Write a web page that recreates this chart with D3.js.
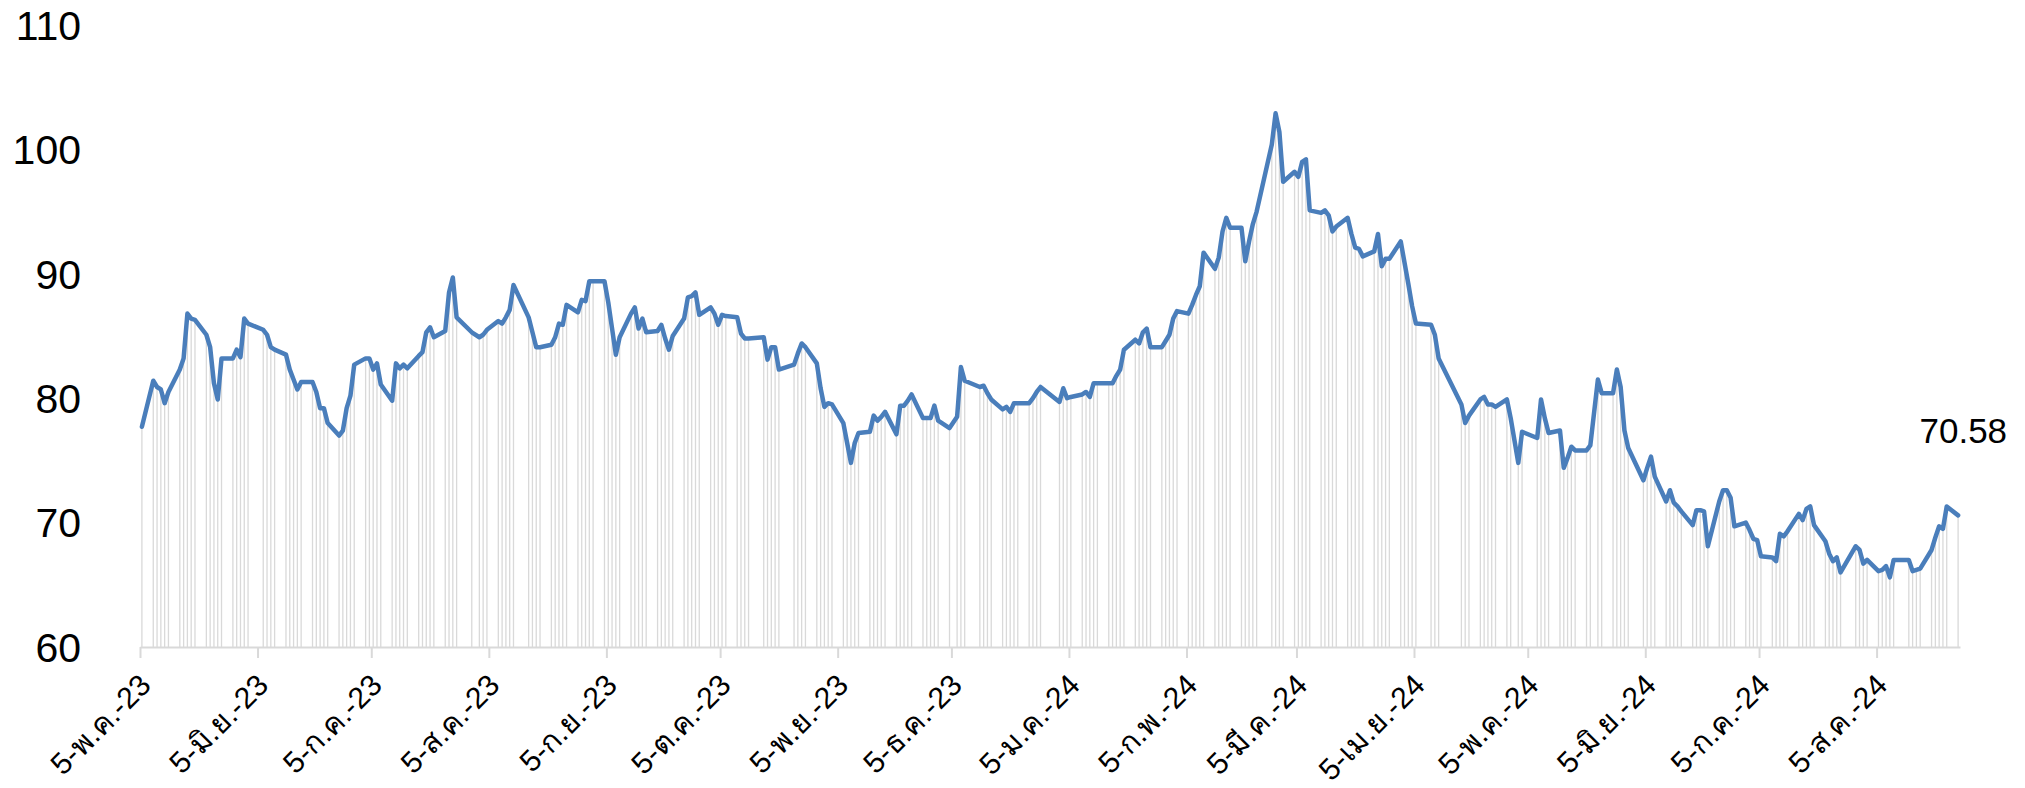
<!DOCTYPE html>
<html>
<head>
<meta charset="utf-8">
<script src="https://cdn.jsdelivr.net/npm/d3@7"></script>
<style>
  html, body { margin: 0; padding: 0; background: #ffffff; }
  svg { display: block; }
  text { font-family: "Liberation Sans", Arial, Helvetica, sans-serif; fill: #000000; }
</style>
</head>
<body>
<svg id="chart" width="2025" height="788"></svg>
<script>
// Trading days, grouped by month
const months = [
  "2023-05", "2023-06", "2023-07", "2023-08", "2023-09", "2023-10", "2023-11", "2023-12",
  "2024-01", "2024-02", "2024-03", "2024-04", "2024-05", "2024-06", "2024-07", "2024-08"
];
const tradingDays = [
  [5, 8, 9, 10, 11, 12, 15, 16, 17, 18, 19, 22, 23, 24, 25, 26, 29, 30, 31],
  [1, 2, 6, 7, 8, 9, 12, 13, 14, 15, 16, 19, 20, 21, 22, 23, 26, 27, 28, 29, 30],
  [3, 4, 5, 6, 7, 10, 11, 12, 13, 14, 17, 18, 19, 20, 21, 24, 25, 26, 27, 31],
  [2, 3, 4, 7, 8, 9, 10, 11, 15, 16, 17, 18, 21, 22, 23, 24, 25, 28, 29, 30, 31],
  [1, 4, 5, 6, 7, 8, 11, 12, 13, 14, 15, 18, 19, 20, 21, 22, 25, 26, 27, 28, 29],
  [2, 3, 4, 5, 6, 9, 10, 11, 12, 16, 17, 18, 19, 20, 24, 25, 26, 27, 30, 31],
  [1, 2, 3, 6, 7, 8, 9, 10, 13, 14, 15, 16, 17, 20, 21, 22, 23, 24, 27, 28, 29, 30],
  [1, 4, 6, 7, 8, 12, 13, 14, 15, 18, 19, 20, 21, 22, 25, 26, 27, 28],
  [2, 3, 4, 5, 8, 9, 10, 11, 12, 15, 16, 17, 18, 19, 22, 23, 24, 25, 26, 29, 30, 31],
  [1, 2, 5, 6, 7, 8, 9, 12, 13, 14, 15, 16, 19, 20, 21, 22, 23, 27, 28, 29],
  [1, 4, 5, 6, 7, 8, 11, 12, 13, 14, 15, 18, 19, 20, 21, 22, 25, 26, 27, 28, 29],
  [1, 2, 3, 4, 5, 9, 10, 11, 17, 18, 19, 22, 23, 24, 25, 26, 29, 30],
  [2, 3, 7, 8, 9, 10, 13, 14, 15, 16, 17, 20, 21, 23, 24, 27, 28, 29, 30, 31],
  [4, 5, 6, 7, 10, 11, 12, 13, 14, 17, 18, 19, 20, 21, 24, 25, 26, 27, 28],
  [1, 2, 3, 4, 5, 8, 9, 10, 11, 12, 15, 16, 17, 18, 19, 22, 23, 24, 25, 26, 30, 31],
  [1, 2, 5, 6, 7, 8, 9, 13, 14, 15, 16, 19, 20, 21, 22, 23, 26]
];

// Closing values, one per trading day above
const prices = [
  [77.7, 81.4, 80.9, 80.7, 79.6, 80.5, 82.3, 83.2, 86.8, 86.4, 86.3, 85.1, 84.1, 81.2, 79.9, 83.2, 83.2, 83.9, 83.3],
  [86.4, 86.0, 85.5, 85.1, 84.1, 83.9, 83.5, 82.3, 81.5, 80.7, 81.3, 81.3, 80.5, 79.2, 79.2, 78.0, 77.0, 77.4, 79.2, 80.2, 82.7],
  [83.2, 83.2, 82.3, 82.8, 81.1, 79.8, 82.8, 82.4, 82.7, 82.4, 83.4, 83.7, 85.3, 85.7, 84.9, 85.4, 88.5, 89.7, 86.5, 85.3],
  [84.9, 85.1, 85.5, 86.2, 86.0, 86.5, 87.1, 89.1, 86.5, 85.3, 84.1, 84.1, 84.3, 84.9, 86.0, 85.9, 87.5, 86.9, 87.9, 87.8, 89.4],
  [89.4, 89.4, 87.7, 85.6, 83.5, 84.9, 86.8, 87.3, 85.6, 86.4, 85.3, 85.4, 85.9, 84.8, 83.9, 85.0, 86.4, 88.1, 88.2, 88.5, 86.7],
  [87.3, 86.8, 85.9, 86.7, 86.6, 86.5, 85.2, 84.8, 84.8, 84.9, 83.1, 84.1, 84.1, 82.3, 82.7, 83.6, 84.4, 84.1, 82.8, 80.8],
  [79.3, 79.6, 79.5, 78.0, 76.4, 74.8, 76.4, 77.2, 77.3, 78.6, 78.2, 78.5, 78.9, 77.1, 79.4, 79.4, 79.8, 80.3, 78.4, 78.4, 78.4, 79.4],
  [78.2, 77.6, 78.5, 82.5, 81.4, 80.9, 81.0, 80.4, 79.9, 79.1, 79.3, 78.9, 79.6, 79.6, 79.6, 80.0, 80.5, 80.9],
  [79.7, 80.8, 80.0, 80.1, 80.3, 80.5, 80.1, 81.2, 81.2, 81.2, 81.2, 81.8, 82.3, 83.9, 84.7, 84.4, 85.3, 85.6, 84.1, 84.1, 84.6, 85.1],
  [86.4, 87.0, 86.8, 87.5, 88.3, 89.0, 91.7, 90.4, 91.3, 93.4, 94.5, 93.7, 93.7, 91.0, 92.6, 94.0, 95.0, 100.4, 102.9, 101.4],
  [97.4, 98.2, 97.8, 99.0, 99.2, 95.1, 94.9, 95.1, 94.7, 93.4, 93.8, 94.5, 93.2, 92.1, 92.0, 91.4, 91.8, 93.2, 90.6, 91.2, 91.2],
  [92.6, 90.9, 89.2, 87.4, 86.0, 85.9, 85.1, 83.2, 79.5, 78.0, 78.6, 79.9, 80.1, 79.5, 79.5, 79.3, 79.9, 78.4],
  [74.8, 77.3, 76.8, 79.9, 78.4, 77.2, 77.4, 74.4, 75.2, 76.1, 75.8, 75.8, 76.2, 81.5, 80.4, 80.4, 82.3, 80.9, 77.4, 76.0],
  [73.4, 74.4, 75.3, 73.7, 71.7, 72.6, 71.6, 71.3, 70.9, 69.8, 71.0, 71.0, 70.9, 68.1, 71.7, 72.6, 72.6, 72.0, 69.7],
  [70.0, 69.4, 68.7, 68.6, 67.3, 67.2, 66.9, 69.1, 68.9, 69.3, 70.7, 70.2, 71.1, 71.3, 69.8, 68.5, 67.5, 66.9, 67.2, 66.0, 68.1, 67.8],
  [66.7, 67.0, 66.1, 66.2, 66.5, 65.6, 67.0, 67.0, 66.1, 66.2, 66.3, 67.8, 68.8, 69.7, 69.5, 71.3, 70.58]
];

// Axis ticks
const tickDates = [
  "2023-05-05", "2023-06-05", "2023-07-05", "2023-08-05", "2023-09-05", "2023-10-05",
  "2023-11-05", "2023-12-05", "2024-01-05", "2024-02-05", "2024-03-05", "2024-04-05",
  "2024-05-05", "2024-06-05", "2024-07-05", "2024-08-05"
];
const tickLabels = [
  "5-พ.ค.-23", "5-มิ.ย.-23", "5-ก.ค.-23", "5-ส.ค.-23", "5-ก.ย.-23", "5-ต.ค.-23",
  "5-พ.ย.-23", "5-ธ.ค.-23", "5-ม.ค.-24", "5-ก.พ.-24", "5-มี.ค.-24", "5-เม.ย.-24",
  "5-พ.ค.-24", "5-มิ.ย.-24", "5-ก.ค.-24", "5-ส.ค.-24"
];
const yTicks = [60, 70, 80, 90, 100, 110];
const axisStart = "2023-05-05";
const axisEnd = "2024-08-27";

// Flatten into one dated series; each day is placed in the middle of its day slot
const parseDay = d3.utcParse("%Y-%m-%d");
const series = [];
months.forEach((m, i) => {
  const [yy, mm] = m.split("-").map(Number);
  tradingDays[i].forEach((day, j) => {
    series.push({ date: new Date(Date.UTC(yy, mm - 1, day, 12)), value: prices[i][j] });
  });
});

const svg = d3.select("#chart");
svg.append("rect").attr("width", 2025).attr("height", 788).attr("fill", "#ffffff");

const x = d3.scaleUtc()
  .domain([parseDay(axisStart), parseDay(axisEnd)])
  .range([140, 1960]);

const y = d3.scaleLinear()
  .domain([60, 110])
  .range([647, 25]);

// Drop lines from each point to the base
svg.append("g")
  .selectAll("line")
  .data(series)
  .join("line")
  .attr("x1", d => x(d.date))
  .attr("x2", d => x(d.date))
  .attr("y1", d => y(d.value))
  .attr("y2", y(60))
  .attr("stroke", "#d9d9d9")
  .attr("stroke-width", 1.3);

// X axis
const xAxis = d3.axisBottom(x)
  .tickValues(tickDates.map(parseDay))
  .tickFormat((d, i) => tickLabels[i])
  .tickSizeInner(11)
  .tickSizeOuter(0);

const gx = svg.append("g")
  .attr("transform", `translate(0,${y(60)})`)
  .call(xAxis);
gx.select(".domain").attr("stroke", "#d9d9d9").attr("stroke-width", 2);
gx.selectAll(".tick line").attr("stroke", "#d9d9d9").attr("stroke-width", 2);
gx.selectAll(".tick text")
  .attr("x", 0).attr("y", 0).attr("dy", 0)
  .attr("text-anchor", "end")
  .attr("transform", "translate(12,40) rotate(-45)")
  .style("font-size", "30px");

// Y axis labels
const gy = svg.append("g")
  .attr("transform", "translate(90,0)")
  .call(d3.axisLeft(y).tickValues(yTicks).tickSize(0).tickPadding(9));
gy.select(".domain").remove();
gy.selectAll(".tick text")
  .attr("dy", "0.35em")
  .style("font-size", "41px");

// Price line
const line = d3.line()
  .x(d => x(d.date))
  .y(d => y(d.value));

svg.append("path")
  .datum(series)
  .attr("fill", "none")
  .attr("stroke", "#4a7ebb")
  .attr("stroke-width", 4.5)
  .attr("stroke-linejoin", "round")
  .attr("stroke-linecap", "round")
  .attr("d", line);

// Latest value label
const last = series[series.length - 1];
svg.append("text")
  .attr("x", x(last.date) + 49)
  .attr("y", y(last.value) - 72)
  .attr("text-anchor", "end")
  .style("font-size", "35px")
  .text(d3.format(".2f")(last.value));
</script>
</body>
</html>
